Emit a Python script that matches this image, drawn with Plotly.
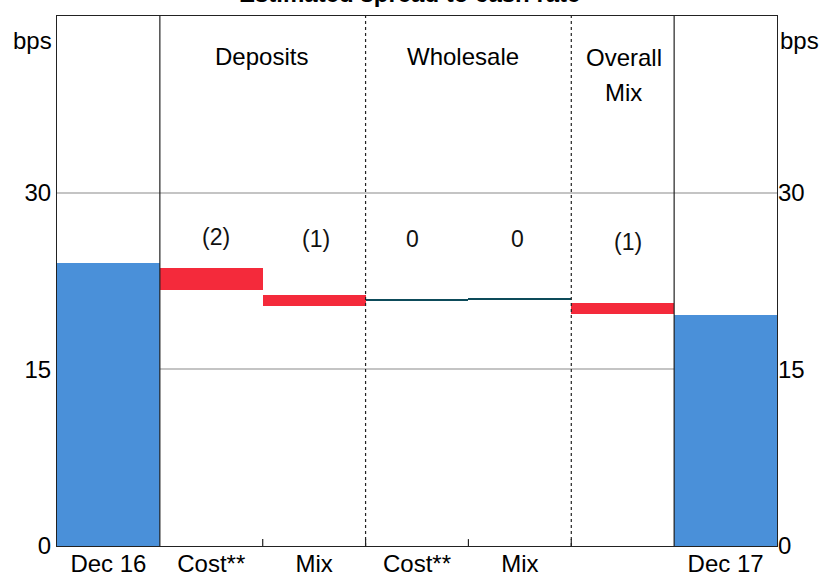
import plotly.graph_objects as go

# ---- data ----
categories = ["Dec 16", "Cost**", "Mix", "Cost**", "Mix", "", "Dec 17"]
bar_low = [0, 21.7, 20.35, 20.76, 20.86, 19.66, 0]
bar_high = [24.0, 23.64, 21.3, 20.96, 21.06, 20.65, 19.6]
bar_colors = ["#4a90d9", "#f42a3b", "#f42a3b", "#0d4b5a", "#0d4b5a", "#f42a3b", "#4a90d9"]
change_labels = ["", "(2)", "(1)", "0", "0", "(1)", ""]
label_x = [None, 1.05, 2.02, 2.96, 3.98, 5.05, None]
label_y = [None, 26.2, 26.1, 26.1, 26.1, 25.8, None]
section_labels = ["Deposits", "Wholesale", "Overall", "Mix"]
section_x = [1.49, 3.45, 5.01, 5.01]
section_y = [41.6, 41.6, 41.5, 38.5]
y_ticks = [0, 15, 30]
solid_dividers = [0.5, 5.5]
dotted_dividers = [2.5, 4.5]
bottom_ticks = [1.5, 2.5, 3.5, 4.5]

FONT = "Liberation Sans, Arial, sans-serif"
FS = 24

xs = list(range(len(categories)))
fig = go.Figure()
fig.add_trace(go.Bar(
    x=xs,
    y=[h - l for h, l in zip(bar_high, bar_low)],
    base=bar_low,
    width=1.0,
    marker=dict(color=bar_colors, line=dict(width=0)),
    hoverinfo="skip",
    showlegend=False,
))
# invisible trace to anchor the right axis
fig.add_trace(go.Scatter(x=[xs[0]], y=[None], yaxis="y2", showlegend=False, hoverinfo="skip"))

annotations = []
for t, lx, ly in zip(change_labels, label_x, label_y):
    if t:
        annotations.append(dict(x=lx, y=ly, text=t, showarrow=False,
                                font=dict(family=FONT, size=FS - 1, color="#111111"),
                                xref="x", yref="y"))
for t, sx, sy in zip(section_labels, section_x, section_y):
    annotations.append(dict(x=sx, y=sy, text=t, showarrow=False,
                            font=dict(family=FONT, size=FS, color="#000000"),
                            xref="x", yref="y"))
annotations.append(dict(x=0, y=0.983, xref="paper", yref="paper", text="bps",
                        showarrow=False, xanchor="right", xshift=-3,
                        font=dict(family=FONT, size=FS, color="#000000")))
annotations.append(dict(x=1, y=0.983, xref="paper", yref="paper", text="bps",
                        showarrow=False, xanchor="left", xshift=1,
                        font=dict(family=FONT, size=FS, color="#000000")))
annotations.append(dict(x=0.49, y=1.0135, xref="paper", yref="paper",
                        text="<b>Estimated spread to cash rate</b>",
                        showarrow=False, yanchor="bottom",
                        font=dict(family=FONT, size=FS, color="#000000")))

shapes = []
for d in solid_dividers:
    shapes.append(dict(type="line", xref="x", yref="paper", x0=d, x1=d, y0=0, y1=1,
                       line=dict(color="#222222", width=1.2), layer="above"))
for d in dotted_dividers:
    shapes.append(dict(type="line", xref="x", yref="paper", x0=d, x1=d, y0=0, y1=1,
                       line=dict(color="#222222", width=1.2, dash="dot"), layer="above"))
for d in bottom_ticks:
    shapes.append(dict(type="line", xref="x", yref="paper", x0=d, x1=d, y0=0, y1=0.013,
                       line=dict(color="#222222", width=1.2), layer="above"))

fig.update_layout(
    width=824, height=574,
    margin=dict(l=57, r=47, t=16, b=28),
    paper_bgcolor="white", plot_bgcolor="white",
    bargap=0,
    font=dict(family=FONT, size=FS, color="#000000"),
    xaxis=dict(range=[-0.5, 6.5], tickvals=xs, ticktext=categories, ticks="",
               showgrid=False, zeroline=False, showline=True, mirror=True,
               linecolor="#222222", linewidth=1.2, automargin=False,
               ticklabelstandoff=-4,
               tickfont=dict(family=FONT, size=FS)),
    yaxis=dict(range=[0, 45], tickvals=y_ticks, ticks="", showgrid=True,
               gridcolor="#c4c4c4", gridwidth=1.5, zeroline=False,
               showline=True, mirror=True, linecolor="#222222", linewidth=1.2,
               automargin=False, tickfont=dict(family=FONT, size=FS)),
    yaxis2=dict(range=[0, 45], tickvals=y_ticks, ticks="", overlaying="y", side="right",
                showgrid=False, zeroline=False, showline=False, automargin=False,
                tickfont=dict(family=FONT, size=FS)),
    annotations=annotations,
    shapes=shapes,
)

fig.write_html("out.html", config={"displayModeBar": False},
               post_script="document.body.style.margin='0';document.body.style.overflow='hidden';")
